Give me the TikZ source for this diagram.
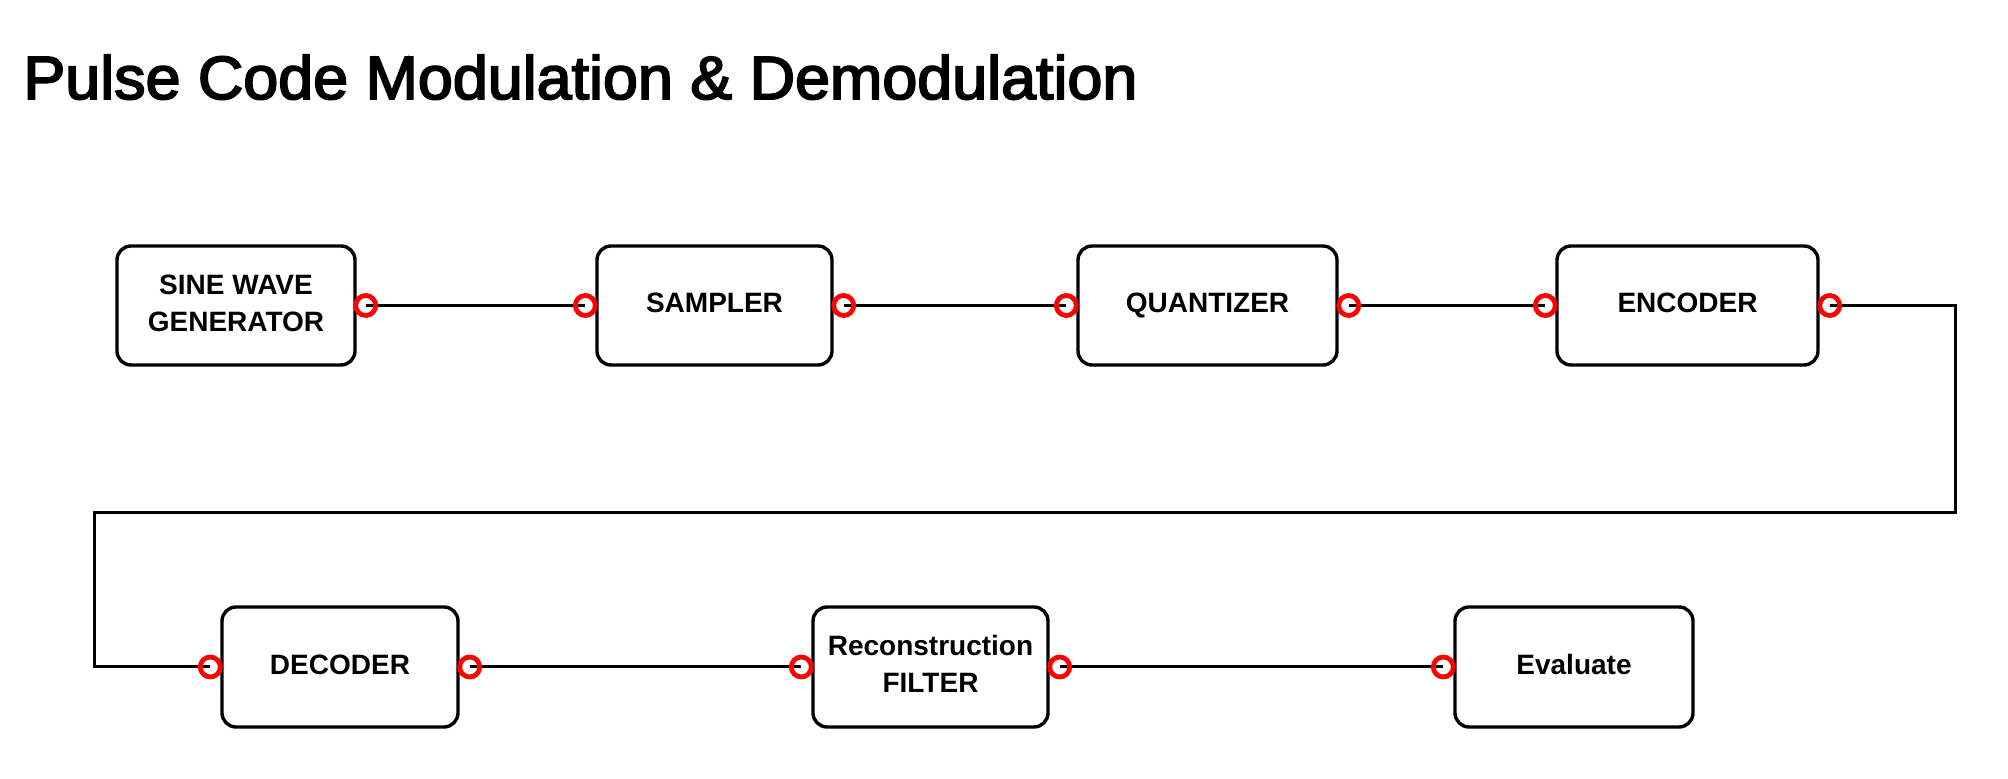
\documentclass[tikz,border=0pt]{standalone}
\usepackage{fontspec}
\setmainfont{Liberation Sans}
\newfontfamily\titlefont[FakeBold=3]{Liberation Sans}
\begin{document}
\begin{tikzpicture}[x=0.5pt,y=-0.5pt,
  blockbox/.style={draw=black,line width=1.7pt,rounded corners=7pt,fill=white,
    font=\fontsize{14}{18.5}\selectfont\bfseries,align=center,inner sep=0pt},
  port/.style={circle,draw=red,line width=2.4pt,minimum size=10pt,inner sep=0pt},
  wire/.style={draw=black,line width=1.5pt}]
\useasboundingbox (0,0) rectangle (2008,779);
\fill[white] (0,0) rectangle (2008,779);
% title
\node[anchor=base west,inner sep=0pt,font=\titlefont\fontsize{30.5}{36}\selectfont,xscale=1.03] (title) at (23,99) {Pulse Code Modulation \& Demodulation};
% boxes row 1
\node[blockbox,minimum width=119pt,minimum height=59.5pt] (sine) at (236,305.5) {\strut SINE WAVE\\\strut GENERATOR};
\node[blockbox,minimum width=117.5pt,minimum height=59.5pt] (samp) at (714.5,305.5) {\strut SAMPLER};
\node[blockbox,minimum width=129.5pt,minimum height=59.5pt] (quant) at (1207.5,305.5) {\strut QUANTIZER};
\node[blockbox,minimum width=130.5pt,minimum height=59.5pt] (enc) at (1687.5,305.5) {\strut ENCODER};
% boxes row 2
\node[blockbox,minimum width=118pt,minimum height=60pt] (dec) at (340,667) {\strut DECODER};
\node[blockbox,minimum width=117.5pt,minimum height=60pt] (rec) at (930.5,667) {\strut Reconstruction\\\strut FILTER};
\node[blockbox,minimum width=119pt,minimum height=60pt] (eval) at (1574,667) {\strut Evaluate};
% ports
\coordinate (sineO) at ([xshift=4.5pt]sine.east);
\coordinate (sampI) at ([xshift=-5pt]samp.west);
\coordinate (sampO) at ([xshift=5pt]samp.east);
\coordinate (quantI) at ([xshift=-5pt]quant.west);
\coordinate (quantO) at ([xshift=5pt]quant.east);
\coordinate (encI) at ([xshift=-5pt]enc.west);
\coordinate (encO) at ([xshift=5pt]enc.east);
\coordinate (decI) at ([xshift=-5pt]dec.west);
\coordinate (decO) at ([xshift=5pt]dec.east);
\coordinate (recI) at ([xshift=-5pt]rec.west);
\coordinate (recO) at ([xshift=5pt]rec.east);
\coordinate (evalI) at ([xshift=-5pt]eval.west);
\coordinate (bendB) at (1955,513);
\coordinate (bendC) at (94,513);
\coordinate (bendA) at (encO -| bendB);
\coordinate (bendD) at (bendC |- decI);
% wires
\draw[wire] (sineO) -- (sampI);
\draw[wire] (sampO) -- (quantI);
\draw[wire] (quantO) -- (encI);
\draw[wire] (encO) -- (bendA) -- (bendB) -- (bendC) -- (bendD) -- (decI);
\draw[wire] (decO) -- (recI);
\draw[wire] (recO) -- (evalI);
% port circles
\foreach \p in {sineO,sampI,sampO,quantI,quantO,encI,encO,decI,decO,recI,recO,evalI}
  \node[port] (c\p) at (\p) {};
\end{tikzpicture}
\end{document}
